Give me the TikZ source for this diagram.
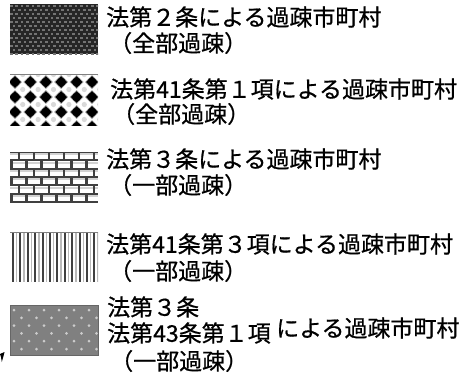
\documentclass[tikz,border=0pt]{standalone}
\usepackage{fontspec}
\newfontfamily\jp[FakeBold=0.7]{Noto Sans CJK JP}
\begin{document}
\begin{tikzpicture}[x=1pt,y=-1pt,
  lab/.style={anchor=west,inner sep=0pt,font=\jp\fontsize{23}{23}\selectfont},
  edge/.style={draw=black!60,line width=0.8pt}]
\useasboundingbox[fill=white] (0,0) rectangle (469,389);

% ---- box 1: dark checker
\begin{scope}
\clip (10,4) rectangle (98,54);
\fill[black!85] (10,4) rectangle (98,54);
\foreach \j in {0,...,12}{
  \foreach \i in {0,...,16}{
    \pgfmathsetmacro\xx{10+5.4*\i+2.7*mod(\j,2)}
    \pgfmathsetmacro\yy{5+4*\j}
    \fill[black!55] (\xx,\yy) rectangle ++(2.6,2);
  }
}
\end{scope}

% ---- box 2: black blobs
\begin{scope}
\clip (10,74) rectangle (98,125);
\fill[white] (10,74) rectangle (98,125);
\foreach \i in {-1,...,5}{
  \foreach \j in {-1,...,3}{
    \pgfmathsetmacro\cx{15+15.4*\i+7.7}
    \pgfmathsetmacro\cy{82+15*\j+7.5}
    \fill[gray!30] (\cx,\cy) circle (2.6);
  }
}
\foreach \i in {0,...,5}{
  \foreach \j in {0,...,3}{
    \pgfmathsetmacro\cx{15+15.4*\i}
    \pgfmathsetmacro\cy{82+15*\j}
    \fill[gray!70] (\cx,\cy) +(-7,0) -- +(0,-7) -- +(7,0) -- +(0,7) -- cycle;
    \fill[black] (\cx,\cy) +(-5.8,0) -- +(0,-5.8) -- +(5.8,0) -- +(0,5.8) -- cycle;
    \fill[black] (\cx,\cy) circle (4.4);
  }
}
\end{scope}
\draw[gray,line width=0.8pt] (10,74) -- (98,74);

% ---- box 3: bricks
\begin{scope}
\clip (10,152) rectangle (98,202);
\fill[white] (10,152) rectangle (98,202);
\foreach \j in {0,...,5}{
  \pgfmathsetmacro\yy{152+8.33*\j}
  \fill[gray!35] (10,{\yy+1.4}) rectangle (98,{\yy+3.2});
  \foreach \i in {0,...,6}{
    \pgfmathsetmacro\xx{4+15*\i+7.5*mod(\j,2)}
    \draw[black!75,line width=2.2pt] (\xx,\yy) -- (\xx,{\yy+8.33});
  }
}
\foreach \j in {0,...,6}{
  \draw[black!75,line width=2pt] (10,{152+8.33*\j}) -- (98,{152+8.33*\j});
}
\end{scope}

% ---- box 4: vertical stripes
\begin{scope}
\clip (10,232) rectangle (98,282);
\fill[white] (10,232) rectangle (98,282);
\foreach \i in {0,...,11}{
  \pgfmathsetmacro\xx{13+7.4*\i}
  \draw[gray!55,line width=1.5pt] ({\xx+3.7},232) -- ({\xx+3.7},282);
  \draw[black!75,line width=2pt] (\xx,232) -- (\xx,282);
}
\end{scope}
\draw[gray,line width=0.8pt] (10,232) -- (98,232);

% ---- box 5: gray with light dots
\begin{scope}
\clip (10,305) rectangle (98,355);
\fill[black!50] (10,305) rectangle (98,355);
\foreach \j in {0,...,6}{
  \foreach \i in {0,...,6}{
    \pgfmathsetmacro\xx{14+15*\i+7.5*mod(\j,2)}
    \pgfmathsetmacro\yy{310+7.8*\j}
    \fill[black!20] (\xx,\yy) circle (1.5);
  }
}
\end{scope}
\draw[edge] (10,305) rectangle (98,355);

% small mark at bottom left
\fill[black] (0,354) -- (4.5,352) -- (3.5,356) -- (1.8,362) -- (1,357) -- cycle;

% ---- labels
\node[lab] (t1a) at (106,17) {法第２条による過疎市町村};
\node[lab] (t1b) at (109,43) {（全部過疎）};
\node[lab] (t2a) at (110,89) {法第41条第１項による過疎市町村};
\node[lab] (t2b) at (112,114) {（全部過疎）};
\node[lab] (t3a) at (106,159) {法第３条による過疎市町村};
\node[lab] (t3b) at (109,185) {（一部過疎）};
\node[lab] (t4a) at (106,244) {法第41条第３項による過疎市町村};
\node[lab] (t4b) at (109,271) {（一部過疎）};
\node[lab] (t5a) at (107,307) {法第３条};
\node[lab] (t5b) at (107,333) {法第43条第１項};
\node[lab] (t5c) at (276,328) {による過疎市町村};
\node[lab] (t5d) at (110,361) {（一部過疎）};
\end{tikzpicture}
\end{document}
